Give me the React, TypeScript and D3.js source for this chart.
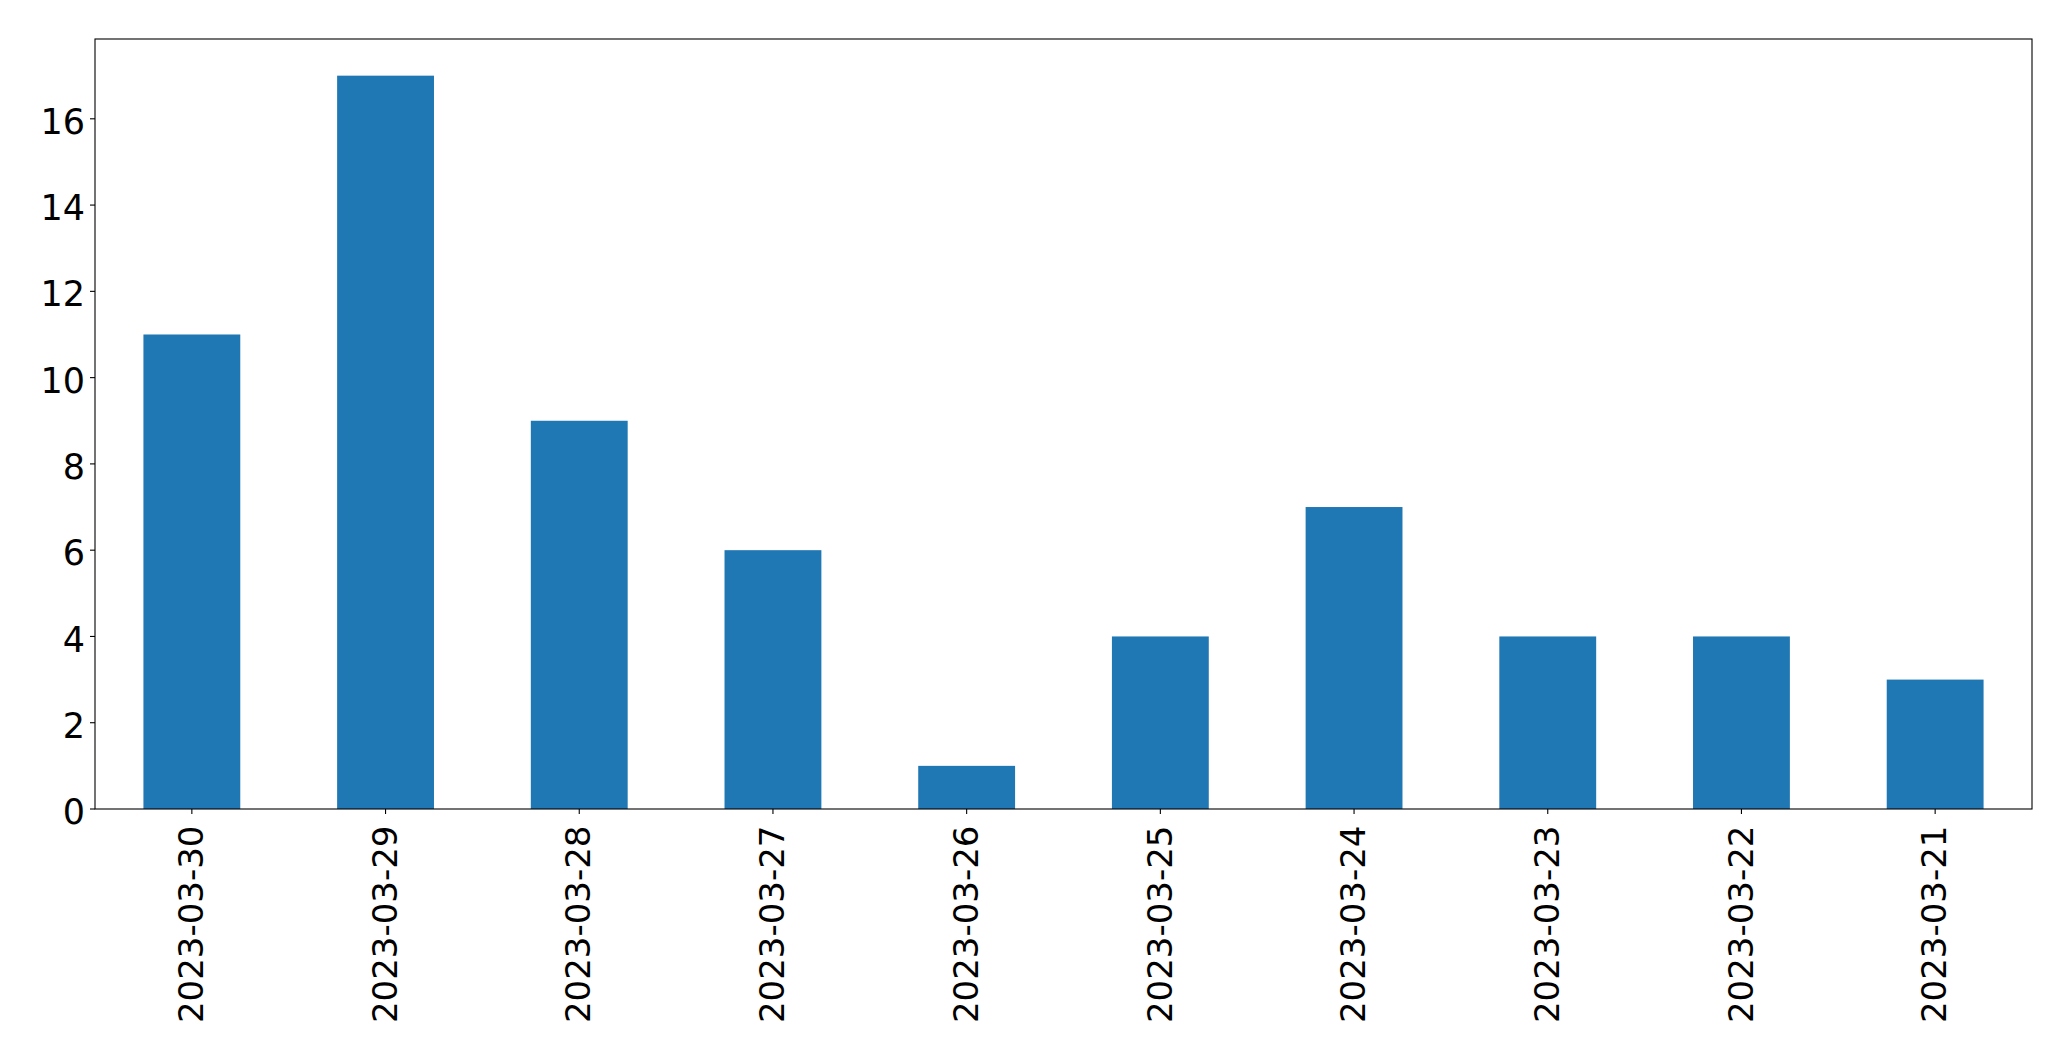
import React from 'react';
import * as d3 from 'd3';

const dates = [
  '2023-03-30', '2023-03-29', '2023-03-28', '2023-03-27', '2023-03-26',
  '2023-03-25', '2023-03-24', '2023-03-23', '2023-03-22', '2023-03-21',
];
const counts = [11, 17, 9, 6, 1, 4, 7, 4, 4, 3];
const yTicks = [0, 2, 4, 6, 8, 10, 12, 14, 16];

const W = 2071;
const H = 1061;
const margin = { top: 39, right: 39, bottom: 252, left: 95 };
const FONT = 'DejaVu Sans, sans-serif';
const FS_Y = 35;
const FS_X = 34;

export default function App() {
  const innerW = W - margin.left - margin.right;
  const innerH = H - margin.top - margin.bottom;

  // matplotlib style: bars width 0.5 of each slot
  const x = d3.scaleBand<string>().domain(dates).range([0, innerW]).paddingInner(0.5).paddingOuter(0.25);
  const y = d3.scaleLinear().domain([0, d3.max(counts)! * 1.05]).range([innerH, 0]);

  return (
    <svg width={W} height={H} style={{ position: 'absolute', left: 0, top: 0, background: '#fff' }}>
      <g transform={`translate(${margin.left},${margin.top})`}>
        {dates.map((d, i) => (
          <rect
            key={d}
            x={x(d)}
            y={y(counts[i])}
            width={x.bandwidth()}
            height={innerH - y(counts[i])}
            fill="#1f77b4"
          />
        ))}

        {/* y axis */}
        {yTicks.map((t) => (
          <g key={t} transform={`translate(0,${y(t)})`}>
            <line x1={-5} x2={0} stroke="#000" strokeWidth={1.1} />
            <text x={-10} dy="0.43em" textAnchor="end" fontFamily={FONT} fontSize={FS_Y} fill="#000">
              {t}
            </text>
          </g>
        ))}

        {/* x axis */}
        {dates.map((d) => {
          const cx = x(d)! + x.bandwidth() / 2;
          return (
            <g key={d} transform={`translate(${cx},${innerH})`}>
              <line y1={0} y2={5} stroke="#000" strokeWidth={1.1} />
              <text
                transform="translate(0,16.5) rotate(-90)"
                dy="0.33em"
                textAnchor="end"
                fontFamily={FONT}
                fontSize={FS_X}
                fill="#000"
              >
                {d}
              </text>
            </g>
          );
        })}

        <rect x={0} y={0} width={innerW} height={innerH} fill="none" stroke="#000" strokeWidth={1.1} />
      </g>
    </svg>
  );
}
